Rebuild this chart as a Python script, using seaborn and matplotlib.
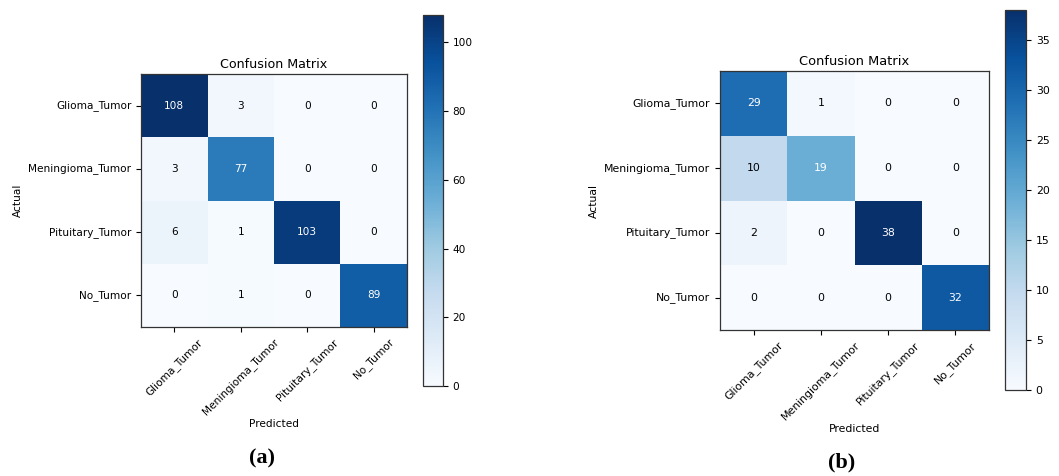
import numpy as np
import matplotlib
matplotlib.use("Agg")
import matplotlib.pyplot as plt
import seaborn as sns

classes = ["Glioma_Tumor", "Meningioma_Tumor", "Pituitary_Tumor", "No_Tumor"]

cm_a = np.array([
    [108, 3, 0, 0],
    [3, 77, 0, 0],
    [6, 1, 103, 0],
    [0, 1, 0, 89],
])
cm_b = np.array([
    [29, 1, 0, 0],
    [10, 19, 0, 0],
    [2, 0, 38, 0],
    [0, 0, 0, 32],
])
cbar_ticks_a = [0, 20, 40, 60, 80, 100]
cbar_ticks_b = [0, 5, 10, 15, 20, 25, 30, 35]
panel_labels = ["(a)", "(b)"]

W, H = 1059, 476


def px_axes(fig, x0, y0, x1, y1):
    # pixel box (top-left origin) -> figure axes
    return fig.add_axes([x0 / W, 1 - y1 / H, (x1 - x0) / W, (y1 - y0) / H])


def draw_cm(fig, cm, box, cbox, cticks, fs):
    ax = px_axes(fig, *box)
    cax = px_axes(fig, *cbox)
    sns.heatmap(cm, annot=True, fmt="d", cmap="Blues", ax=ax, cbar_ax=cax,
                vmin=0, vmax=cm.max(), annot_kws={"size": fs},
                xticklabels=classes, yticklabels=classes)
    # white text on the dark cells only
    thresh = cm.max() * 0.45
    for t in ax.texts:
        t.set_color("white" if int(t.get_text()) > thresh else "black")
    for s in ax.spines.values():
        s.set_visible(True)
        s.set_linewidth(0.9)
        s.set_color("#333333")
    ax.tick_params(axis="both", length=3.5, width=0.8, labelsize=fs)
    plt.setp(ax.get_xticklabels(), rotation=45, ha="center")
    plt.setp(ax.get_yticklabels(), rotation=0)
    ax.set_title("Confusion Matrix", fontsize=fs * 1.2, pad=4)
    ax.set_xlabel("Predicted", fontsize=fs, labelpad=1)
    ax.set_ylabel("Actual", fontsize=fs)
    cax.set_yticks(cticks)
    cax.tick_params(length=3.5, width=0.8, labelsize=fs)
    cb = ax.collections[0].colorbar
    if cb is not None:
        cb.outline.set_linewidth(0.9)
        cb.outline.set_edgecolor("#333333")
    return ax


fig = plt.figure(figsize=(W / 100, H / 100), dpi=100)

draw_cm(fig, cm_a, (141, 74, 407, 327), (423, 15, 443, 386), cbar_ticks_a, 7.6)
draw_cm(fig, cm_b, (720, 71, 989, 330), (1005, 10, 1026, 390), cbar_ticks_b, 7.8)

fig.text(262 / W, 1 - 458 / H, panel_labels[0], ha="center", va="center",
         fontsize=16, fontweight="bold", family="Liberation Serif")
fig.text(842 / W, 1 - 462 / H, panel_labels[1], ha="center", va="center",
         fontsize=16, fontweight="bold", family="Liberation Serif")

fig.savefig("out.png", dpi=100)
